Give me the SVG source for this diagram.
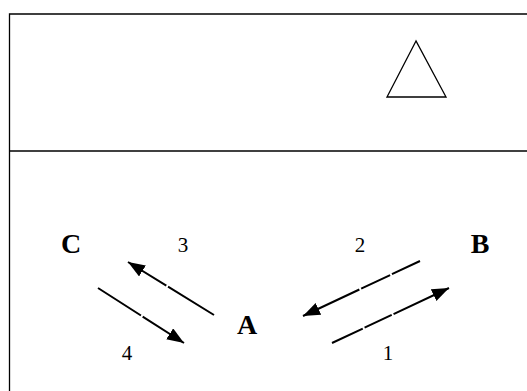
<svg xmlns="http://www.w3.org/2000/svg" width="527" height="391" viewBox="0 0 527 391">
<style>
.frame{fill:none;stroke:#000;stroke-width:1.3}
.arr{stroke:#000;stroke-width:2;fill:none;marker-end:url(#ah)}
.lbl{font-family:"Liberation Serif","Times New Roman",serif;font-weight:bold;font-size:28px;text-anchor:middle;fill:#000}
.num{font-family:"Liberation Serif","Times New Roman",serif;font-size:21px;text-anchor:middle;fill:#000}
</style>
<defs>
<marker id="ah" markerUnits="userSpaceOnUse" markerWidth="20" markerHeight="16" refX="17" refY="6.5" orient="auto">
<path d="M0,0 L17,6.5 L0,13 Z" fill="#000"/>
</marker>
</defs>
<rect width="527" height="391" fill="#fff"/>
<g id="frame">
<path class="frame" d="M530,14 H9.5 V395"/>
<path class="frame" d="M9.5,151 H530"/>
<polygon points="416,41 387,97 446,97" fill="none" stroke="#000" stroke-width="1.3"/>
</g>
<g id="node-C"><text class="lbl" x="71" y="253">C</text></g>
<g id="node-B"><text class="lbl" x="480" y="253">B</text></g>
<g id="node-A"><text class="lbl" x="247" y="334">A</text></g>
<g id="connectors">
<line class="arr" x1="332" y1="343" x2="449" y2="288" stroke-dasharray="34 2 30 2 200"/>
<line class="arr" x1="420" y1="261" x2="303" y2="316" stroke-dasharray="31 2 32 2 200"/>
<line class="arr" x1="214" y1="315" x2="128" y2="262" stroke-dasharray="54 2 200"/>
<line class="arr" x1="98" y1="288" x2="184" y2="343" stroke-dasharray="51 2 200"/>
<text class="num" x="388" y="360">1</text>
<text class="num" x="360" y="252">2</text>
<text class="num" x="183" y="252">3</text>
<text class="num" x="127" y="360">4</text>
</g>
</svg>
